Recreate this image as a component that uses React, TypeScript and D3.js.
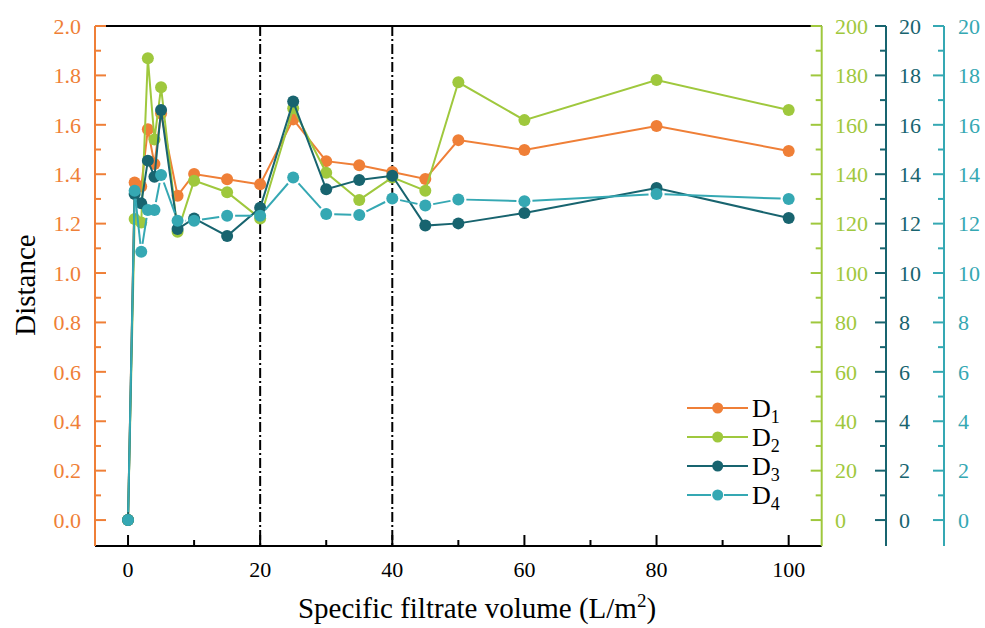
import React from 'react';
import * as d3 from 'd3';

const xValues = [0, 1, 2, 3, 4, 5, 7.5, 10, 15, 20, 25, 30, 35, 40, 45, 50, 60, 80, 100];
const d1Values = [0, 1.366, 1.35, 1.582, 1.441, 1.646, 1.313, 1.401, 1.38, 1.359, 1.622, 1.453, 1.436, 1.409, 1.381, 1.538, 1.498, 1.595, 1.494];
const d2Values = [0, 121.9, 120.5, 186.9, 154.1, 175.2, 116.7, 137.4, 132.7, 122.1, 166.7, 140.6, 129.6, 138.7, 133.3, 177.2, 161.9, 178.1, 166];
const d3Values = [0, 13.2, 12.82, 14.55, 13.9, 16.6, 11.78, 12.21, 11.5, 12.64, 16.94, 13.39, 13.77, 13.94, 11.92, 12.01, 12.43, 13.44, 12.23];
const d4Values = [0, 13.33, 10.86, 12.55, 12.55, 13.97, 12.12, 12.12, 12.32, 12.32, 13.87, 12.39, 12.35, 13.02, 12.73, 12.98, 12.91, 13.2, 13.0];
const vLines = [20, 40];
const xTicks = [0, 20, 40, 60, 80, 100];
const xMinor = [10, 30, 50, 70, 90];
const leftTicks = [0, 0.2, 0.4, 0.6, 0.8, 1.0, 1.2, 1.4, 1.6, 1.8, 2.0];
const greenTicks = [0, 20, 40, 60, 80, 100, 120, 140, 160, 180, 200];
const tealTicks = [0, 2, 4, 6, 8, 10, 12, 14, 16, 18, 20];
const seriesNames = ['1', '2', '3', '4'];

const C1 = '#EF7F37';
const C2 = '#9FC83D';
const C3 = '#18646F';
const C4 = '#35A8B3';
const FONT = '"Liberation Serif", "Times New Roman", serif';

const L = 95, R = 821.7, T = 26, B = 546;

export default function App() {
  const x = d3.scaleLinear().domain([-5, 105]).range([L, R]);
  const yL = d3.scaleLinear().domain([-0.105, 2.0]).range([B, T]);
  const yG = d3.scaleLinear().domain([-10.5, 200]).range([B, T]);
  const yT = d3.scaleLinear().domain([-1.05, 20]).range([B, T]);

  const series = [
    { vals: d1Values, y: yL, color: C1, gap: false },
    { vals: d2Values, y: yG, color: C2, gap: false },
    { vals: d3Values, y: yT, color: C3, gap: false },
    { vals: d4Values, y: yT, color: C4, gap: true },
  ];
  const r = 6;
  const line = d3.line<number>();

  const rightAxis = (ax: number, scale: d3.ScaleLinear<number, number>, ticks: number[], color: string, labelX: number) => {
    const minor: number[] = [];
    for (let i = 0; i < ticks.length - 1; i++) minor.push((ticks[i] + ticks[i + 1]) / 2);
    return (
      <g>
        <line x1={ax} x2={ax} y1={T} y2={B} stroke={color} strokeWidth={2} />
        {ticks.map((t) => (
          <g key={'m' + t}>
            <line x1={ax - 11} x2={ax} y1={scale(t)} y2={scale(t)} stroke={color} strokeWidth={2} />
            <text x={labelX} y={scale(t)} dy="0.35em" fill={color} fontSize={22} fontFamily={FONT}>{t}</text>
          </g>
        ))}
        {minor.map((t) => (
          <line key={'n' + t} x1={ax - 6} x2={ax} y1={scale(t)} y2={scale(t)} stroke={color} strokeWidth={2} />
        ))}
      </g>
    );
  };

  const leftMinor: number[] = [];
  for (let i = 0; i < leftTicks.length - 1; i++) leftMinor.push((leftTicks[i] + leftTicks[i + 1]) / 2);

  return (
    <svg width={985} height={628} style={{ position: 'absolute', left: 0, top: 0, background: '#fff' }}>
      <line x1={L} x2={R} y1={T} y2={T} stroke="#000" strokeWidth={2} />
      {vLines.map((v) => (
        <line key={v} x1={x(v)} x2={x(v)} y1={T} y2={B} stroke="#000" strokeWidth={2} strokeDasharray="10,3,2,3" />
      ))}
      {series.map((s, si) => {
        const pts: [number, number][] = xValues.map((xv, i) => [x(xv), s.y(s.vals[i])]);
        let lineEl;
        if (s.gap) {
          const segs = [];
          for (let i = 0; i < pts.length - 1; i++) {
            const [ax, ay] = pts[i];
            const [bx, by] = pts[i + 1];
            const dx = bx - ax, dy = by - ay;
            const len = Math.hypot(dx, dy);
            const g = r + 2;
            if (len <= 2 * g) continue;
            const ux = dx / len, uy = dy / len;
            segs.push(
              <path key={i} d={line([[ax + ux * g, ay + uy * g], [bx - ux * g, by - uy * g]]) || ''} stroke={s.color} strokeWidth={2} fill="none" />
            );
          }
          lineEl = <g>{segs}</g>;
        } else {
          lineEl = <path d={line(pts) || ''} stroke={s.color} strokeWidth={2} fill="none" />;
        }
        return (
          <g key={si}>
            {lineEl}
            {pts.map((p, i) => (
              <circle key={i} cx={p[0]} cy={p[1]} r={r} fill={s.color} />
            ))}
          </g>
        );
      })}
      <line x1={L} x2={R} y1={B} y2={B} stroke="#000" strokeWidth={2} />
      {xTicks.map((t) => (
        <g key={t}>
          <line x1={x(t)} x2={x(t)} y1={B - 11} y2={B} stroke="#000" strokeWidth={2} />
          <text x={x(t)} y={577} textAnchor="middle" fontSize={22} fontFamily={FONT} fill="#000">{t}</text>
        </g>
      ))}
      {xMinor.map((t) => (
        <line key={t} x1={x(t)} x2={x(t)} y1={B - 6} y2={B} stroke="#000" strokeWidth={2} />
      ))}
      <text x={477} y={618} textAnchor="middle" fontSize={29} fontFamily={FONT} fill="#000">
        Specific filtrate volume (L/m<tspan dy={-11} fontSize={19}>2</tspan><tspan dy={11}>)</tspan>
      </text>
      <line x1={L} x2={L} y1={T} y2={B} stroke={C1} strokeWidth={2} />
      {leftTicks.map((t) => (
        <g key={t}>
          <line x1={L} x2={L + 11} y1={yL(t)} y2={yL(t)} stroke={C1} strokeWidth={2} />
          <text x={81} y={yL(t)} dy="0.35em" textAnchor="end" fontSize={22} fontFamily={FONT} fill={C1}>{t.toFixed(1)}</text>
        </g>
      ))}
      {leftMinor.map((t) => (
        <line key={t} x1={L} x2={L + 6} y1={yL(t)} y2={yL(t)} stroke={C1} strokeWidth={2} />
      ))}
      <text transform="translate(35,285) rotate(-90)" textAnchor="middle" fontSize={29} fontFamily={FONT} fill="#000">Distance</text>
      {rightAxis(R, yG, greenTicks, C2, 835)}
      {rightAxis(886, yT, tealTicks, C3, 899)}
      {rightAxis(944, yT, tealTicks, C4, 958)}
      {series.map((s, i) => {
        const ly = 408 + i * 29;
        return (
          <g key={i}>
            {s.gap ? (
              <g>
                <line x1={687} x2={711} y1={ly} y2={ly} stroke={s.color} strokeWidth={2} />
                <line x1={724} x2={748} y1={ly} y2={ly} stroke={s.color} strokeWidth={2} />
              </g>
            ) : (
              <line x1={687} x2={748} y1={ly} y2={ly} stroke={s.color} strokeWidth={2} />
            )}
            <circle cx={717.7} cy={ly} r={5.5} fill={s.color} />
            <text x={752} y={ly + 9} fontSize={26} fontFamily={FONT} fill="#000">
              D<tspan dy={6} fontSize={18}>{seriesNames[i]}</tspan>
            </text>
          </g>
        );
      })}
    </svg>
  );
}
